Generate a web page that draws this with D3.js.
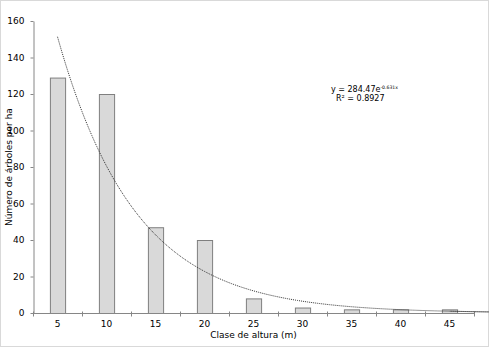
<!DOCTYPE html>
<html>
<head>
<meta charset="utf-8">
<script src="https://cdn.jsdelivr.net/npm/d3@7"></script>
<style>
  html, body { margin: 0; padding: 0; background: #fff; }
  svg { display: block; font-family: Verdana, "DejaVu Sans", sans-serif; }
</style>
</head>
<body>
<svg id="chart" width="489" height="347"></svg>
<script>
// Height classes (m) and number of trees per hectare in each class
const classes = ["5", "10", "15", "20", "25", "30", "35", "40", "45"];
const treesPerHa = [129, 120, 47, 40, 8, 3, 2, 2, 2];
const yTicks = [0, 20, 40, 60, 80, 100, 120, 140, 160];

// Exponential trend fitted over the class index (1..9): y = a·e^(b·x)
const trendA = [284.47];
const trendB = [-0.631];
const trendLabel = ["y = 284.47e", "-0.631x"];
const r2Label = ["R² = 0.8927"];

const svg = d3.select("#chart");
const W = 489, H = 347;
const m = { left: 33, right: 15, top: 21, bottom: 34 };
const font = "Verdana, 'DejaVu Sans', sans-serif";

// Outer frame
svg.append("rect")
  .attr("x", 0.5).attr("y", 0.5)
  .attr("width", W - 1).attr("height", H - 1)
  .attr("fill", "#fff").attr("stroke", "#d9d9d9");

const x = d3.scaleBand()
  .domain(classes)
  .range([m.left, W - m.right])
  .paddingInner(0).paddingOuter(0);

const y = d3.scaleLinear()
  .domain([0, 160])
  .range([H - m.bottom, m.top]);

const barW = x.bandwidth() * 0.31;

// Bars
svg.append("g").selectAll("rect")
  .data(classes)
  .join("rect")
  .attr("x", (d) => x(d) + x.bandwidth() / 2 - barW / 2 + 0.5)
  .attr("y", (d, i) => y(treesPerHa[i]) + 0.5)
  .attr("width", barW)
  .attr("height", (d, i) => y(0) - y(treesPerHa[i]))
  .attr("fill", "#d9d9d9")
  .attr("stroke", "#7f7f7f")
  .attr("stroke-width", 1);

// Y axis
const yAxis = svg.append("g")
  .attr("transform", `translate(${m.left + 0.5},0)`)
  .call(d3.axisLeft(y).tickValues(yTicks).tickSize(3).tickSizeOuter(0).tickPadding(6));
yAxis.select(".domain").attr("stroke", "#868686");
yAxis.selectAll(".tick line").attr("stroke", "#868686");
yAxis.selectAll(".tick text").attr("fill", "#000").attr("font-size", 9)
  .attr("font-family", font);

// X axis: ticks sit on the class boundaries, labels at class centres
const xAxisG = svg.append("g")
  .attr("transform", `translate(0,${y(0) + 0.5})`);
xAxisG.append("line")
  .attr("x1", m.left).attr("x2", W - m.right)
  .attr("stroke", "#868686");
const bounds = classes.map((d) => x(d)).concat([x(classes[classes.length - 1]) + x.bandwidth()]);
xAxisG.selectAll("line.tk")
  .data(bounds)
  .join("line")
  .attr("class", "tk")
  .attr("x1", (d) => Math.round(d) + 0.5).attr("x2", (d) => Math.round(d) + 0.5)
  .attr("y1", -2).attr("y2", 3)
  .attr("stroke", "#868686");
xAxisG.selectAll("text")
  .data(classes)
  .join("text")
  .attr("x", (d) => x(d) + x.bandwidth() / 2)
  .attr("y", 13)
  .attr("text-anchor", "middle")
  .attr("font-size", 9)
  .attr("fill", "#000")
  .text((d) => d);

// Trend line (dotted)
const idx = d3.range(1, classes.length + 1, 0.05);
idx.push(classes.length);
const line = d3.line()
  .x((t) => x(classes[0]) + x.bandwidth() / 2 + (t - 1) * x.bandwidth())
  .y((t) => y(trendA[0] * Math.exp(trendB[0] * t)));
svg.append("path")
  .datum(idx)
  .attr("d", line)
  .attr("fill", "none")
  .attr("stroke", "#333")
  .attr("stroke-width", 1)
  .attr("stroke-dasharray", "1,1");

// Trend equation
const eq = svg.append("text")
  .attr("x", 331).attr("y", 92)
  .attr("font-size", 8)
  .attr("fill", "#000");
eq.append("tspan").text(trendLabel[0]);
eq.append("tspan").attr("dy", -3).attr("font-size", 4.6).text(trendLabel[1]);
svg.append("text")
  .attr("x", 336).attr("y", 101)
  .attr("font-size", 8)
  .attr("fill", "#000")
  .text(r2Label[0]);

// Axis titles
svg.append("text")
  .attr("transform", `translate(12,${(m.top + y(0)) / 2}) rotate(-90)`)
  .attr("text-anchor", "middle")
  .attr("font-size", 9)
  .attr("fill", "#000")
  .text("Número de árboles por ha");
svg.append("text")
  .attr("x", (m.left + W - m.right) / 2)
  .attr("y", 338)
  .attr("text-anchor", "middle")
  .attr("font-size", 9)
  .attr("fill", "#000")
  .text("Clase de altura (m)");
</script>
</body>
</html>
